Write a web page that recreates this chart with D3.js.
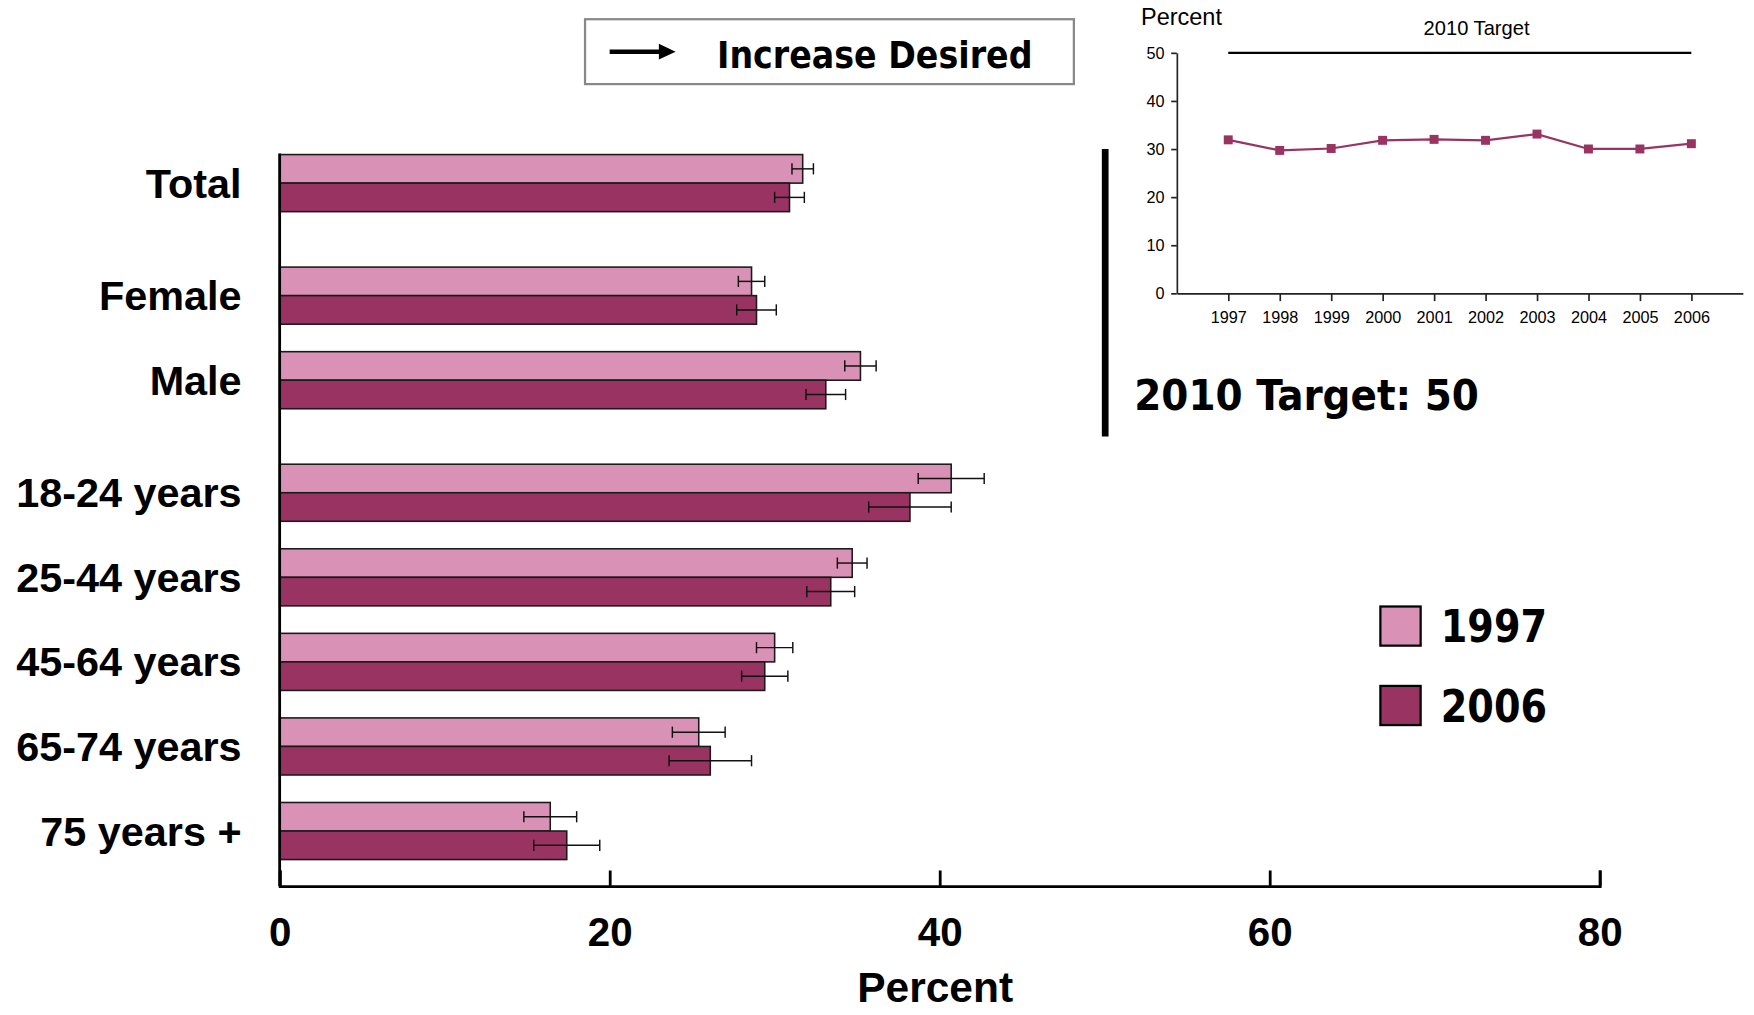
<!DOCTYPE html>
<html>
<head>
<meta charset="utf-8">
<script src="https://cdn.jsdelivr.net/npm/d3@7"></script>
<style>
  body { margin: 0; background: #fff; }
  svg { display: block; }
  .lbl { font-family: 'Liberation Sans', Arial, sans-serif; font-weight: bold; }
  .tah { font-family: 'DejaVu Sans Condensed', 'DejaVu Sans', Verdana, sans-serif; font-weight: bold; }
  .inset text { font-family: 'Liberation Sans', Arial, sans-serif; }
</style>
</head>
<body>
<div id="chart"></div>
<script>
// main chart data
let categories = ['Total', 'Female', 'Male', '18-24 years', '25-44 years', '45-64 years', '65-74 years', '75 years +']
let sections = [0, 1, 1, 2, 2, 2, 2, 2]
let years = ['1997', '2006']
let values1997 = [31.7, 28.6, 35.2, 40.7, 34.7, 30.0, 25.4, 16.4]
let values2006 = [30.9, 28.9, 33.1, 38.2, 33.4, 29.4, 26.1, 17.4]
let err1997 = [0.65, 0.8, 0.95, 2.0, 0.9, 1.1, 1.6, 1.6]
let err2006 = [0.9, 1.2, 1.2, 2.5, 1.45, 1.4, 2.5, 2.0]
let xTicks = [0, 20, 40, 60, 80]

// inset trend data
let trendYears = ['1997', '1998', '1999', '2000', '2001', '2002', '2003', '2004', '2005', '2006']
let trendValues = [31.9, 29.7, 30.1, 31.8, 32.0, 31.8, 33.1, 30.0, 30.0, 31.1]
let trendTicks = [0, 10, 20, 30, 40, 50]
let target = 50

let colors = { '1997': '#da91b6', '2006': '#993362' }

let svg = d3
  .select('#chart')
  .append('svg')
  .attr('width', 1754)
  .attr('height', 1015)
  .attr('viewBox', '0 0 1568 907')

let datapoints = categories.map((c, i) => ({
  category: c,
  section: sections[i],
  bars: [
    { year: '1997', value: values1997[i], err: err1997[i] },
    { year: '2006', value: values2006[i], err: err2006[i] }
  ]
}))

let xPositionScale = d3.scaleLinear().domain([0, 80]).range([250, 1430])

let yPositionScale = d3
  .scaleBand()
  .domain(categories)
  .range([138, 138 + 75.6 * (8 - 0.325)])
  .paddingInner(0.325)
  .paddingOuter(0)

let sectionGap = 25
let yearScale = d3.scaleBand().domain(years).range([0, yPositionScale.bandwidth()])

let groups = svg
  .selectAll('.group')
  .data(datapoints)
  .enter()
  .append('g')
  .attr('class', 'group')
  .attr('transform', d => 'translate(0,' + (yPositionScale(d.category) + d.section * sectionGap) + ')')

groups
  .selectAll('rect')
  .data(d => d.bars)
  .enter()
  .append('rect')
  .attr('x', xPositionScale(0))
  .attr('y', d => yearScale(d.year))
  .attr('height', yearScale.bandwidth())
  .attr('width', d => xPositionScale(d.value) - xPositionScale(0))
  .attr('fill', d => colors[d.year])
  .attr('stroke', '#1a1a1a')
  .attr('stroke-width', 1.4)

// error bars
let errs = groups
  .selectAll('.err')
  .data(d => d.bars)
  .enter()
  .append('g')
  .attr('class', 'err')
  .attr('transform', d => 'translate(0,' + (yearScale(d.year) + yearScale.bandwidth() / 2) + ')')
  .attr('stroke', '#111')
  .attr('stroke-width', 1.3)

errs
  .append('line')
  .attr('x1', d => xPositionScale(d.value - d.err))
  .attr('x2', d => xPositionScale(d.value + d.err))
errs
  .append('line')
  .attr('x1', d => xPositionScale(d.value - d.err))
  .attr('x2', d => xPositionScale(d.value - d.err))
  .attr('y1', -5)
  .attr('y2', 5)
errs
  .append('line')
  .attr('x1', d => xPositionScale(d.value + d.err))
  .attr('x2', d => xPositionScale(d.value + d.err))
  .attr('y1', -5)
  .attr('y2', 5)

// category labels
groups
  .append('text')
  .attr('class', 'lbl')
  .attr('x', 216)
  .attr('y', yPositionScale.bandwidth() / 2 + 13)
  .attr('text-anchor', 'end')
  .attr('font-size', 37)
  .text(d => d.category)

// y axis line
svg
  .append('line')
  .attr('x1', xPositionScale(0))
  .attr('x2', xPositionScale(0))
  .attr('y1', 137)
  .attr('y2', 792)
  .attr('stroke', '#000')
  .attr('stroke-width', 2.5)

// x axis
let xAxis = d3
  .axisBottom(xPositionScale)
  .tickValues(xTicks)
  .tickSize(-14)
  .tickSizeOuter(-14)
  .tickPadding(28)
  .tickFormat(d3.format('d'))

let xg = svg
  .append('g')
  .attr('class', 'axis x-axis')
  .attr('transform', 'translate(0,792)')
  .call(xAxis)
xg.selectAll('path, line').attr('stroke', '#000').attr('stroke-width', 2.5)
xg.selectAll('text')
  .attr('class', 'lbl')
  .attr('font-size', 36)
  .attr('fill', '#000')

svg
  .append('text')
  .attr('class', 'lbl')
  .attr('x', 836)
  .attr('y', 896)
  .attr('text-anchor', 'middle')
  .attr('font-size', 38)
  .text('Percent')

// "Increase Desired" box
svg
  .append('rect')
  .attr('x', 523)
  .attr('y', 17)
  .attr('width', 437)
  .attr('height', 58)
  .attr('fill', 'none')
  .attr('stroke', '#888')
  .attr('stroke-width', 2)
svg
  .append('path')
  .attr('d', 'M545,46 L592,46')
  .attr('stroke', '#000')
  .attr('stroke-width', 4)
svg
  .append('path')
  .attr('d', 'M589,39 L604,46 L589,53 Z')
  .attr('fill', '#000')
svg
  .append('text')
  .attr('class', 'tah')
  .attr('x', 641)
  .attr('y', 61)
  .attr('font-size', 34)
  .attr('textLength', 282)
  .attr('lengthAdjust', 'spacingAndGlyphs')
  .text('Increase Desired')

// target block
svg
  .append('line')
  .attr('x1', 988)
  .attr('x2', 988)
  .attr('y1', 133)
  .attr('y2', 390)
  .attr('stroke', '#000')
  .attr('stroke-width', 6)
svg
  .append('text')
  .attr('class', 'tah')
  .attr('x', 1014)
  .attr('y', 366)
  .attr('font-size', 38)
  .attr('textLength', 308)
  .attr('lengthAdjust', 'spacingAndGlyphs')
  .text('2010 Target: ' + target)

// legend
let legend = svg
  .selectAll('.legend')
  .data(years)
  .enter()
  .append('g')
  .attr('class', 'legend')
  .attr('transform', (d, i) => 'translate(1234,' + (542 + i * 71) + ')')
legend
  .append('rect')
  .attr('width', 36)
  .attr('height', 35)
  .attr('fill', d => colors[d])
  .attr('stroke', '#000')
  .attr('stroke-width', 2)
legend
  .append('text')
  .attr('class', 'tah')
  .attr('x', 54)
  .attr('y', 32)
  .attr('font-size', 40)
  .attr('textLength', 95)
  .attr('lengthAdjust', 'spacingAndGlyphs')
  .text(d => d)

// inset trend chart
let inset = svg.append('g').attr('class', 'inset')

let xTrend = d3.scalePoint().domain(trendYears).range([1052, 1558]).padding(1)
let yTrend = d3.scaleLinear().domain([0, 50]).range([262, 47])

let yTrendAxis = d3
  .axisLeft(yTrend)
  .tickValues(trendTicks)
  .tickSize(5)
  .tickSizeOuter(0)
  .tickPadding(6)
inset
  .append('g')
  .attr('transform', 'translate(1052,0)')
  .call(yTrendAxis)

let xTrendAxis = d3
  .axisBottom(xTrend)
  .tickSize(7)
  .tickSizeOuter(0)
  .tickPadding(9)
inset
  .append('g')
  .attr('transform', 'translate(0,262)')
  .call(xTrendAxis)

inset.selectAll('.domain, .tick line').attr('stroke', '#222').attr('stroke-width', 1.5)
inset.selectAll('.tick text').attr('font-size', 14.5).attr('fill', '#000')

inset
  .append('line')
  .attr('x1', xTrend(trendYears[0]))
  .attr('x2', xTrend(trendYears[trendYears.length - 1]))
  .attr('y1', yTrend(target))
  .attr('y2', yTrend(target))
  .attr('stroke', '#000')
  .attr('stroke-width', 2)

inset
  .append('text')
  .attr('x', 1320)
  .attr('y', 31)
  .attr('text-anchor', 'middle')
  .attr('font-size', 18)
  .text('2010 Target')

inset
  .append('text')
  .attr('x', 1020)
  .attr('y', 22)
  .attr('font-size', 21)
  .text('Percent')

let line = d3
  .line()
  .x((d, i) => xTrend(trendYears[i]))
  .y(d => yTrend(d))

inset
  .append('path')
  .datum(trendValues)
  .attr('d', line)
  .attr('fill', 'none')
  .attr('stroke', colors['2006'])
  .attr('stroke-width', 2)

inset
  .selectAll('.marker')
  .data(trendValues)
  .enter()
  .append('rect')
  .attr('class', 'marker')
  .attr('x', (d, i) => xTrend(trendYears[i]) - 4)
  .attr('y', d => yTrend(d) - 4)
  .attr('width', 8)
  .attr('height', 8)
  .attr('fill', colors['2006'])
</script>
</body>
</html>
